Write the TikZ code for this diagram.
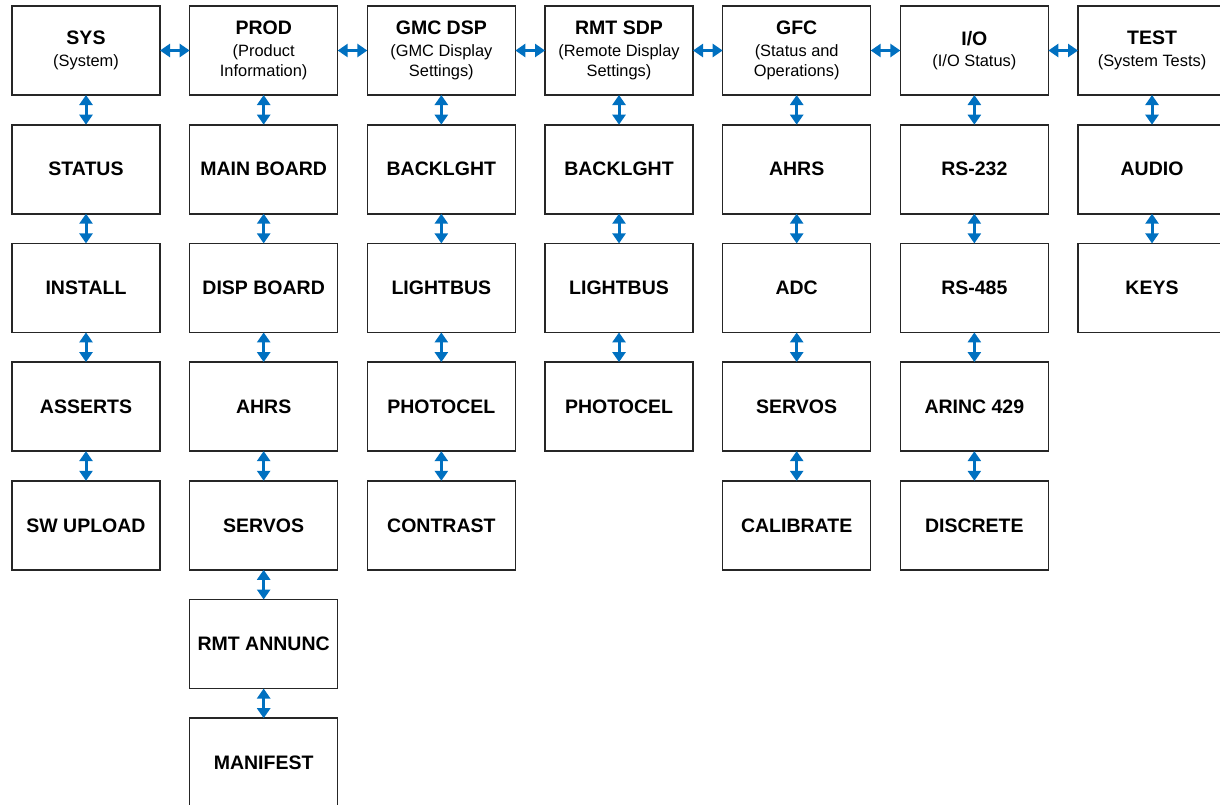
\documentclass[tikz,border=0pt]{standalone}
\usepackage{fontspec}
\setmainfont{Liberation Sans}
\definecolor{linkblue}{RGB}{0,112,192}
\usetikzlibrary{arrows.meta,positioning}

\begin{document}
\begin{tikzpicture}[x=1pt,y=1pt,
    menu/.style={draw=black!85,line width=1.6pt,fill=white,minimum width=148pt,minimum height=89pt,
        inner sep=0pt,outer sep=0pt,align=center,font=\fontsize{16.4}{20}\selectfont},
    item/.style={menu,font=\fontsize{19.5}{22}\selectfont\bfseries},
    link/.style={linkblue,line width=3pt,{Triangle[width=13pt,length=10pt]}-{Triangle[width=13pt,length=10pt]}},
    node distance=29.7pt and 29.67pt]
                \useasboundingbox (0,0) rectangle (1220,-804);

                % Top level pages
                \node[menu] (sys) at (86,-50.5) {{\fontsize{19.5}{22}\selectfont\bfseries SYS}\\[1.5pt](System)};
                \node[menu,right=of sys] (prod) {{\fontsize{19.5}{22}\selectfont\bfseries PROD}\\[1.5pt](Product\\Information)};
                \node[menu,right=of prod] (gmc) {{\fontsize{19.5}{22}\selectfont\bfseries GMC DSP}\\[1.5pt](GMC Display\\Settings)};
                \node[menu,right=of gmc] (rmt) {{\fontsize{19.5}{22}\selectfont\bfseries RMT SDP}\\[1.5pt](Remote Display\\Settings)};
                \node[menu,right=of rmt] (gfc) {{\fontsize{19.5}{22}\selectfont\bfseries GFC}\\[1.5pt](Status and\\Operations)};
                \node[menu,right=of gfc] (io) {{\fontsize{19.5}{22}\selectfont\bfseries I/O}\\[1.5pt](I/O Status)};
                \node[menu,right=of io] (test) {{\fontsize{19.5}{22}\selectfont\bfseries TEST}\\[1.5pt](System Tests)};

                \draw[link] (sys) -- (prod);
                \draw[link] (prod) -- (gmc);
                \draw[link] (gmc) -- (rmt);
                \draw[link] (rmt) -- (gfc);
                \draw[link] (gfc) -- (io);
                \draw[link] (io) -- (test);

                % SYS column
                \node[item,below=of sys] (sys1) {STATUS};
                \node[item,below=of sys1] (sys2) {INSTALL};
                \node[item,below=of sys2] (sys3) {ASSERTS};
                \node[item,below=of sys3] (sys4) {SW UPLOAD};
                \draw[link] (sys) -- (sys1);
                \draw[link] (sys1) -- (sys2);
                \draw[link] (sys2) -- (sys3);
                \draw[link] (sys3) -- (sys4);

                % PROD column
                \node[item,below=of prod] (prod1) {MAIN BOARD};
                \node[item,below=of prod1] (prod2) {DISP BOARD};
                \node[item,below=of prod2] (prod3) {AHRS};
                \node[item,below=of prod3] (prod4) {SERVOS};
                \node[item,below=of prod4] (prod5) {RMT ANNUNC};
                \node[item,below=of prod5] (prod6) {MANIFEST};
                \draw[link] (prod) -- (prod1);
                \draw[link] (prod1) -- (prod2);
                \draw[link] (prod2) -- (prod3);
                \draw[link] (prod3) -- (prod4);
                \draw[link] (prod4) -- (prod5);
                \draw[link] (prod5) -- (prod6);

                % GMC DSP column
                \node[item,below=of gmc] (gmc1) {BACKLGHT};
                \node[item,below=of gmc1] (gmc2) {LIGHTBUS};
                \node[item,below=of gmc2] (gmc3) {PHOTOCEL};
                \node[item,below=of gmc3] (gmc4) {CONTRAST};
                \draw[link] (gmc) -- (gmc1);
                \draw[link] (gmc1) -- (gmc2);
                \draw[link] (gmc2) -- (gmc3);
                \draw[link] (gmc3) -- (gmc4);

                % RMT SDP column
                \node[item,below=of rmt] (rmt1) {BACKLGHT};
                \node[item,below=of rmt1] (rmt2) {LIGHTBUS};
                \node[item,below=of rmt2] (rmt3) {PHOTOCEL};
                \draw[link] (rmt) -- (rmt1);
                \draw[link] (rmt1) -- (rmt2);
                \draw[link] (rmt2) -- (rmt3);

                % GFC column
                \node[item,below=of gfc] (gfc1) {AHRS};
                \node[item,below=of gfc1] (gfc2) {ADC};
                \node[item,below=of gfc2] (gfc3) {SERVOS};
                \node[item,below=of gfc3] (gfc4) {CALIBRATE};
                \draw[link] (gfc) -- (gfc1);
                \draw[link] (gfc1) -- (gfc2);
                \draw[link] (gfc2) -- (gfc3);
                \draw[link] (gfc3) -- (gfc4);

                % I/O column
                \node[item,below=of io] (io1) {RS-232};
                \node[item,below=of io1] (io2) {RS-485};
                \node[item,below=of io2] (io3) {ARINC 429};
                \node[item,below=of io3] (io4) {DISCRETE};
                \draw[link] (io) -- (io1);
                \draw[link] (io1) -- (io2);
                \draw[link] (io2) -- (io3);
                \draw[link] (io3) -- (io4);

                % TEST column
                \node[item,below=of test] (test1) {AUDIO};
                \node[item,below=of test1] (test2) {KEYS};
                \draw[link] (test) -- (test1);
                \draw[link] (test1) -- (test2);
            \end{tikzpicture}
\end{document}
